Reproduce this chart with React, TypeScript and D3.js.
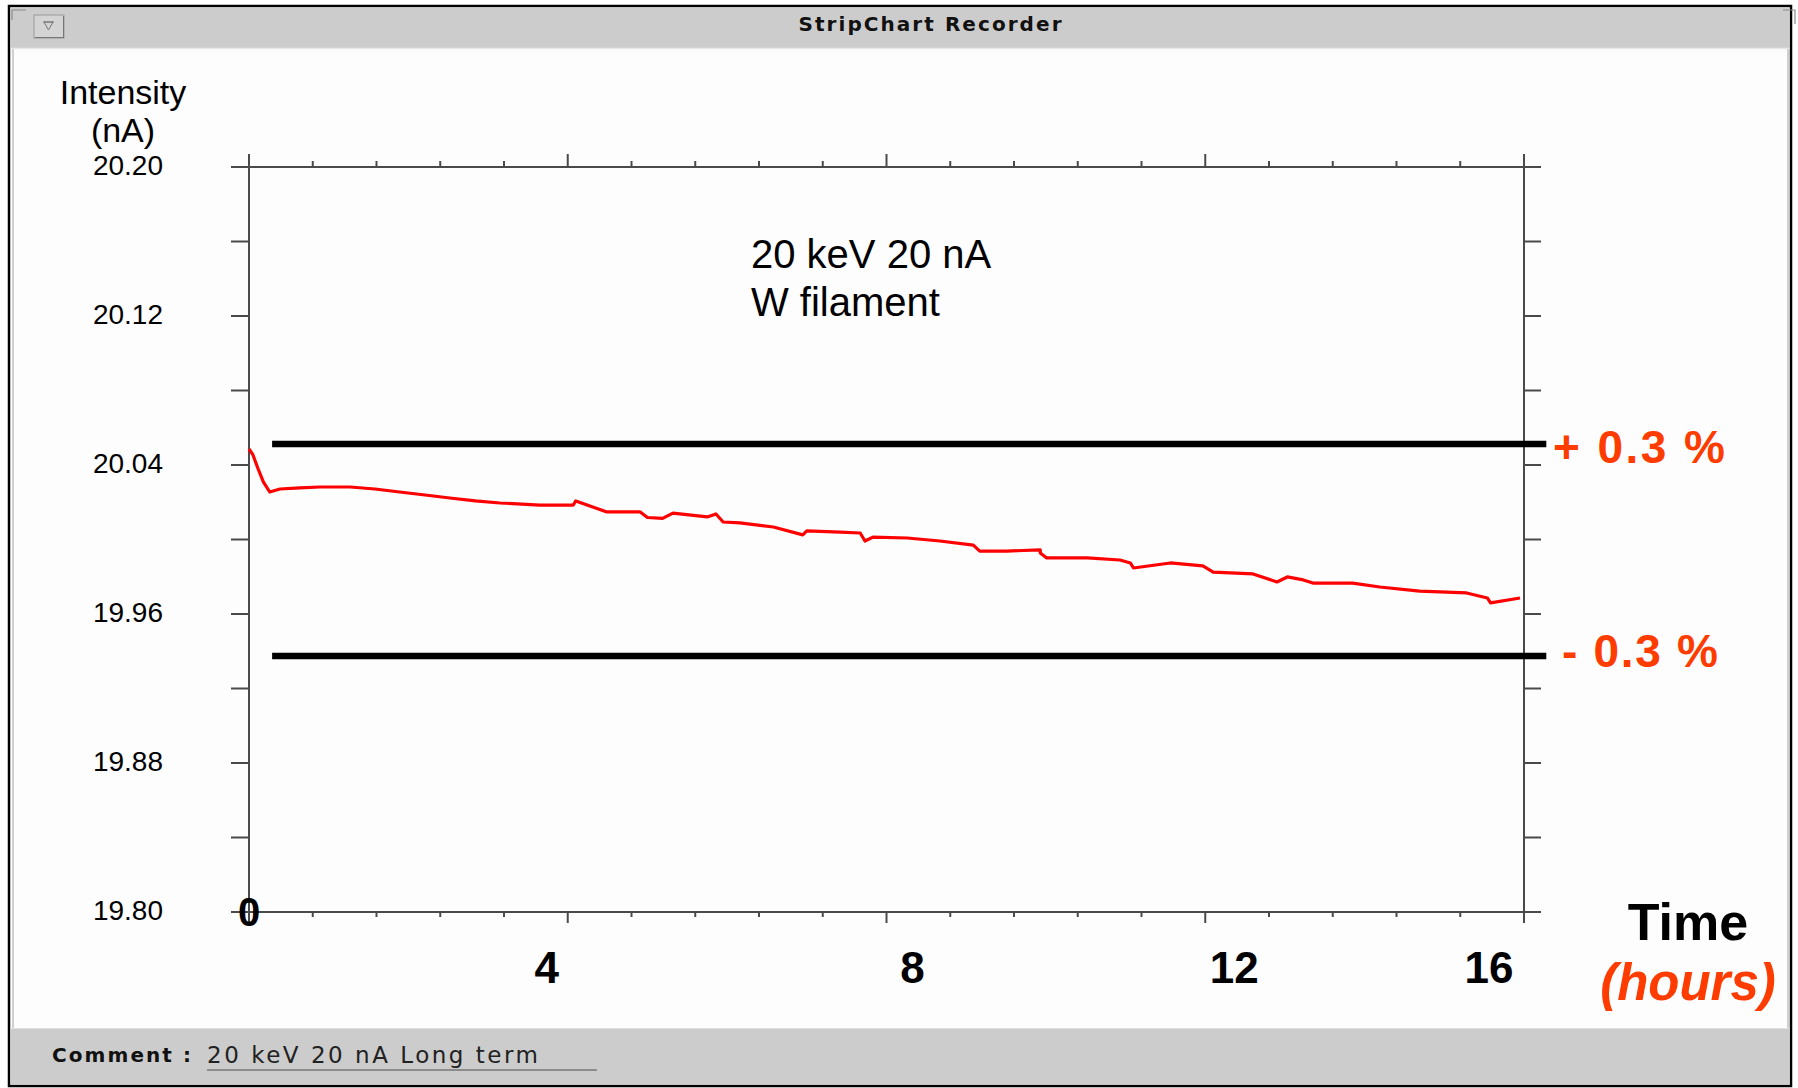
import React from "react";
import * as d3 from "d3";

// ---------- data ----------
const hours: number[] = [
  0, 0.05, 0.11, 0.18, 0.26, 0.39, 0.64, 0.89, 1.27, 1.58, 1.89, 2.21, 2.52, 2.84, 3.15,
  3.65, 4.07, 4.1, 4.49, 4.91, 5.0, 5.19, 5.32, 5.75, 5.86, 5.95, 6.16, 6.58, 6.95, 7.0,
  7.42, 7.67, 7.73, 7.83, 8.26, 8.67, 9.09, 9.17, 9.51, 9.93, 9.93, 10.01, 10.52, 10.93,
  11.06, 11.1, 11.56, 11.97, 12.1, 12.6, 12.9, 13.03, 13.23, 13.35, 13.85, 14.19, 14.69,
  15.28, 15.54, 15.58, 15.95,
];
const intensity: number[] = [
  20.0486, 20.0454, 20.0384, 20.0309, 20.0255, 20.0271, 20.0277, 20.0282, 20.0282, 20.0271,
  20.0255, 20.0239, 20.0223, 20.0207, 20.0196, 20.0185, 20.0185, 20.0207, 20.0148, 20.0148,
  20.0118, 20.0113, 20.0142, 20.0121, 20.0137, 20.0094, 20.0089, 20.0067, 20.0025, 20.0046,
  20.004, 20.0035, 19.9992, 20.0013, 20.0008, 19.9992, 19.997, 19.9938, 19.9938, 19.9944,
  19.9928, 19.9901, 19.9901, 19.989, 19.9874, 19.9847, 19.9874, 19.9858, 19.9825, 19.9815,
  19.9772, 19.9799, 19.9783, 19.9766, 19.9766, 19.9745, 19.9723, 19.9713, 19.9686, 19.966,
  19.9686,
];
const yTickValues: number[] = [20.2, 20.16, 20.12, 20.08, 20.04, 20.0, 19.96, 19.92, 19.88, 19.84, 19.8];
const yTickLabels: string[] = ["20.20", "20.12", "20.04", "19.96", "19.88", "19.80"];
const yLabelValues: number[] = [20.2, 20.12, 20.04, 19.96, 19.88, 19.8];
const xMajorTicks: number[] = [0, 4, 8, 12, 16];
const xMinorStep = 0.8;
const xTickLabels: string[] = ["4", "8", "12", "16"];
const xTickLabelValues: number[] = [4, 8, 12, 16];
const limitValues: number[] = [20.0513, 19.9374];
const limitLabels: string[] = ["+ 0.3 %", "- 0.3 %"];
const annotationLines: string[] = ["20 keV 20 nA", "W filament"];
const titleText = "StripChart Recorder";
const commentText = "20 keV 20 nA Long term";

// ---------- layout ----------
const W = 1798;
const H = 1088;
const X0 = 249, X1 = 1524, Y0 = 912, Y1 = 167;
const xLabelNudge = [-21, 26, 29, -35];
const limitLabelPos = [
  { x: 1553, dy: 19, len: 172 },
  { x: 1562, dy: 11, len: 156 },
];
const SANS = "'Liberation Sans', Arial, Helvetica, sans-serif";
const UI = "'DejaVu Sans', Verdana, sans-serif";
const ORANGE = "#ff3c00";
const AX = "#4a4a4a";

export default function App() {
  const x = d3.scaleLinear().domain([0, 16]).range([X0, X1]);
  const y = d3.scaleLinear().domain([19.8, 20.2]).range([Y0, Y1]);
  const minorTicks = d3.range(0, 16 + 1e-6, xMinorStep);
  const data = hours.map((h, i) => [h, intensity[i]] as [number, number]);
  const line = d3
    .line<[number, number]>()
    .x((d) => x(d[0]))
    .y((d) => y(d[1]));

  const axLeft = X0 - 18;
  const axRight = X1 + 17;
  const axTop = Y1 - 13;
  const axBottom = Y0 + 10;

  return (
    <div style={{ position: "absolute", left: 0, top: 0 }}>
      <svg width={W} height={H} viewBox={`0 0 ${W} ${H}`} style={{ display: "block" }}>
        <rect x={0} y={0} width={W} height={H} fill="#ffffff" />
        {/* window */}
        <rect x={9} y={6} width={1782} height={1080} fill="#fdfdfd" stroke="#000" strokeWidth={2.5} />
        <rect x={10.5} y={7.5} width={1779} height={40.5} fill="#cccccc" />
        <line x1={10.5} x2={1789.5} y1={48.5} y2={48.5} stroke="#e8e8e8" strokeWidth={1.5} />
        <line x1={13} x2={13} y1={49} y2={1028} stroke="#d0d0d0" strokeWidth={2} />
        <line x1={1788} x2={1788} y1={49} y2={1028} stroke="#d0d0d0" strokeWidth={2} />
        <rect x={10.5} y={1028} width={1779} height={56.5} fill="#cccccc" />
        <line x1={10.5} x2={1789.5} y1={1028.5} y2={1028.5} stroke="#e0e0e0" strokeWidth={1} />
        {/* corner marks */}
        <path d="M12,20 L12,10 L26,10" fill="none" stroke="#8a8a8a" strokeWidth={1.2} />
        <path d="M1783,10 L1795,10 L1795,24" fill="none" stroke="#8a8a8a" strokeWidth={1.2} />
        {/* menu button */}
        <rect x={34} y={15} width={30} height={23} fill="#d4d4d4" stroke="#9a9a9a" strokeWidth={1} />
        <line x1={35} x2={63} y1={37.5} y2={37.5} stroke="#777" strokeWidth={1} />
        <line x1={63.5} x2={63.5} y1={16} y2={38} stroke="#777" strokeWidth={1} />
        <path d="M44,22 L53,22 L48.5,30 Z" fill="none" stroke="#777" strokeWidth={1} />
        <line x1={43} x2={54} y1={22} y2={22} stroke="#777" strokeWidth={1} />
        {/* title */}
        <text x={930} y={31} textAnchor="middle" fontFamily={UI} fontWeight="bold" fontSize={20}
          textLength={263} lengthAdjust="spacing" fill="#111">{titleText}</text>

        {/* axes frame */}
        <g stroke={AX} strokeWidth={2} fill="none">
          <line x1={axLeft} x2={axRight} y1={Y1} y2={Y1} />
          <line x1={axLeft} x2={axRight} y1={Y0} y2={Y0} />
          <line x1={X0} x2={X0} y1={axTop} y2={Y0} />
          <line x1={X1} x2={X1} y1={axTop} y2={axBottom} />
          {minorTicks.map((t, i) => {
            const major = xMajorTicks.some((m) => Math.abs(m - t) < 1e-6);
            return (
              <g key={`xt${i}`}>
                <line x1={x(t)} x2={x(t)} y1={Y1} y2={Y1 - (major ? 13 : 6)} />
                <line x1={x(t)} x2={x(t)} y1={Y0} y2={Y0 + (major ? 11 : 5)} />
              </g>
            );
          })}
          {yTickValues.map((v, i) => (
            <g key={`yt${i}`}>
              <line x1={X0 - 18} x2={X0} y1={y(v)} y2={y(v)} />
              <line x1={X1} x2={X1 + 17} y1={y(v)} y2={y(v)} />
            </g>
          ))}
        </g>

        {/* y labels */}
        <text x={123} y={104} textAnchor="middle" fontFamily={SANS} fontSize={34} fill="#000">Intensity</text>
        <text x={123} y={142} textAnchor="middle" fontFamily={SANS} fontSize={34} fill="#000">(nA)</text>
        {yLabelValues.map((v, i) => (
          <text key={`yl${i}`} x={163} y={y(v) + 8} textAnchor="end" fontFamily={SANS} fontSize={28} fill="#000">
            {yTickLabels[i]}
          </text>
        ))}

        {/* x labels */}
        <text x={x(0)} y={Y0 + 14} textAnchor="middle" fontFamily={SANS} fontWeight="bold" fontSize={40} fill="#000">0</text>
        {xTickLabelValues.map((v, i) => (
          <text key={`xl${i}`} x={x(v) + xLabelNudge[i]} y={983} textAnchor="middle" fontFamily={SANS}
            fontWeight="bold" fontSize={44} fill="#000">{xTickLabels[i]}</text>
        ))}
        <text x={1688} y={940} textAnchor="middle" fontFamily={SANS} fontWeight="bold" fontSize={52} fill="#000">Time</text>
        <text x={1688} y={1000} textAnchor="middle" fontFamily={SANS} fontWeight="bold" fontStyle="italic"
          fontSize={51} fill={ORANGE}>(hours)</text>

        {/* annotation */}
        {annotationLines.map((s, i) => (
          <text key={`an${i}`} x={751} y={268 + i * 48} fontFamily={SANS} fontSize={40} fill="#000">{s}</text>
        ))}

        {/* limit lines */}
        {limitValues.map((v, i) => (
          <g key={`lim${i}`}>
            <line x1={x(0.29)} x2={x(16.28)} y1={y(v)} y2={y(v)} stroke="#000" strokeWidth={6.5} />
            <text x={limitLabelPos[i].x} y={y(v) + limitLabelPos[i].dy} fontFamily={SANS} fontWeight="bold"
              fontSize={46} fill={ORANGE} textLength={limitLabelPos[i].len} lengthAdjust="spacing">
              {limitLabels[i]}
            </text>
          </g>
        ))}

        {/* trace */}
        <path d={line(data) || ""} fill="none" stroke="#ff0000" strokeWidth={3.2} strokeLinejoin="round" />

        {/* comment bar */}
        <text x={52} y={1062} fontFamily={UI} fontWeight="bold" fontSize={20} fill="#111"
          textLength={139} lengthAdjust="spacing">Comment :</text>
        <text x={207} y={1063} fontFamily={UI} fontSize={23} fill="#222"
          textLength={331} lengthAdjust="spacing">{commentText}</text>
        <line x1={207} x2={597} y1={1070} y2={1070} stroke="#777" strokeWidth={1.5} />
      </svg>
    </div>
  );
}
